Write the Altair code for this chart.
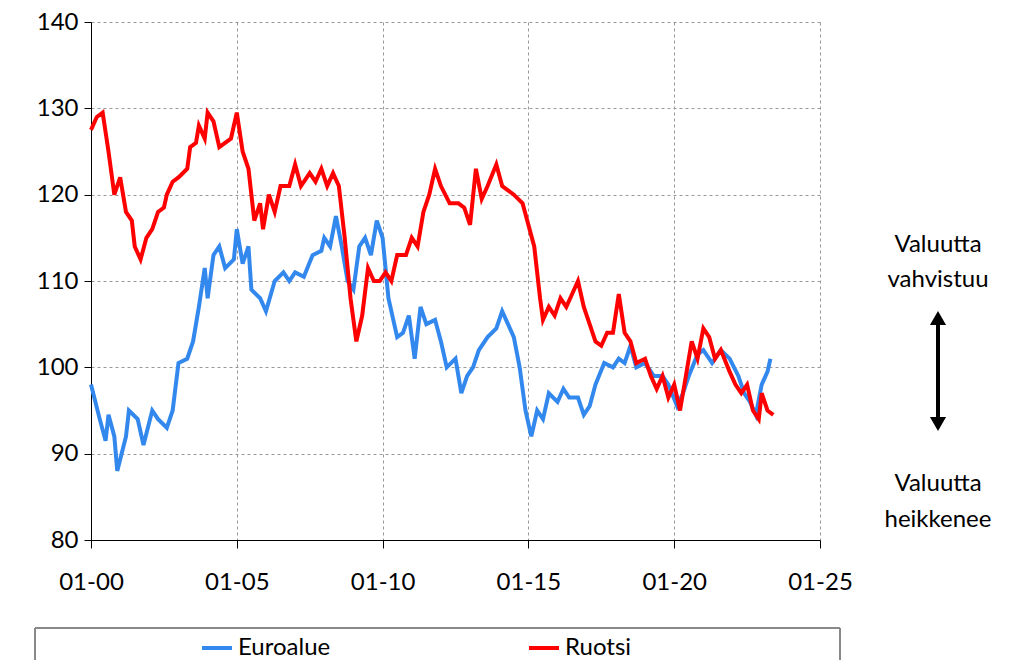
import altair as alt
import pandas as pd

euro_t = [2000.0, 2000.3, 2000.5, 2000.6, 2000.8, 2000.9, 2001.2, 2001.3, 2001.6, 2001.8, 2002.1, 2002.3, 2002.6, 2002.8,
          2003.0, 2003.3, 2003.5, 2003.7, 2003.9, 2004.0, 2004.2, 2004.4, 2004.6, 2004.9, 2005.0, 2005.2, 2005.4, 2005.5,
          2005.8, 2006.0, 2006.3, 2006.6, 2006.8, 2007.0, 2007.3, 2007.6, 2007.9, 2008.0, 2008.2, 2008.4, 2008.6, 2008.8,
          2009.0, 2009.2, 2009.4, 2009.6, 2009.8, 2010.0, 2010.2, 2010.5, 2010.7, 2010.9, 2011.1, 2011.3, 2011.5, 2011.8,
          2012.0, 2012.2, 2012.5, 2012.7, 2012.9, 2013.1, 2013.3, 2013.6, 2013.9, 2014.1, 2014.3, 2014.5, 2014.7, 2014.9,
          2015.1, 2015.3, 2015.5, 2015.7, 2016.0, 2016.2, 2016.4, 2016.7, 2016.9, 2017.1, 2017.3, 2017.6, 2017.9, 2018.1,
          2018.3, 2018.5, 2018.7, 2019.0, 2019.3, 2019.6, 2019.8, 2020.1, 2020.3, 2020.5, 2020.8, 2021.0, 2021.3, 2021.6,
          2021.9, 2022.2, 2022.4, 2022.6, 2022.8, 2023.0, 2023.2, 2023.3]
euro_v = [98, 94, 91.5, 94.5, 92, 88, 92, 95, 94, 91, 95, 94, 93, 95,
          100.5, 101, 103, 107, 111.5, 108, 113, 114, 111.5, 112.5, 116, 112, 114, 109,
          108, 106.5, 110, 111, 110, 111, 110.5, 113, 113.5, 115, 114, 117.5, 114, 110,
          109, 114, 115, 113, 117, 115, 108, 103.5, 104, 106, 101, 107, 105, 105.5,
          103, 100, 101, 97, 99, 100, 102, 103.5, 104.5, 106.5, 105, 103.5, 100, 95,
          92, 95, 94, 97, 96, 97.5, 96.5, 96.5, 94.5, 95.5, 98, 100.5, 100, 101,
          100.5, 102.5, 100, 100.5, 99, 99, 98, 95.5, 97, 99, 101.5, 102, 100.5, 102,
          101, 99, 97, 96, 94.5, 98, 99.5, 101]

swe_t = [2000.0, 2000.2, 2000.4, 2000.6, 2000.8, 2001.0, 2001.2, 2001.4, 2001.5, 2001.7, 2001.9, 2002.1, 2002.3, 2002.5,
         2002.6, 2002.8, 2003.0, 2003.3, 2003.4, 2003.6, 2003.7, 2003.9, 2004.0, 2004.2, 2004.4, 2004.6, 2004.8, 2005.0,
         2005.2, 2005.4, 2005.6, 2005.8, 2005.9, 2006.1, 2006.3, 2006.5, 2006.8, 2007.0, 2007.2, 2007.5, 2007.7, 2007.9,
         2008.1, 2008.3, 2008.5, 2008.7, 2008.9, 2009.1, 2009.2, 2009.3, 2009.5, 2009.7, 2009.9, 2010.1, 2010.3, 2010.5,
         2010.8, 2011.0, 2011.2, 2011.4, 2011.6, 2011.8, 2012.0, 2012.3, 2012.6, 2012.8, 2013.0, 2013.2, 2013.4, 2013.6,
         2013.9, 2014.1, 2014.3, 2014.5, 2014.8, 2015.0, 2015.2, 2015.4, 2015.5, 2015.7, 2015.9, 2016.1, 2016.3, 2016.5,
         2016.7, 2016.9, 2017.1, 2017.3, 2017.5, 2017.7, 2017.9, 2018.1, 2018.3, 2018.5, 2018.7, 2019.0, 2019.2, 2019.4,
         2019.6, 2019.8, 2020.0, 2020.2, 2020.4, 2020.6, 2020.8, 2021.0, 2021.2, 2021.4, 2021.6, 2021.9, 2022.1, 2022.3,
         2022.5, 2022.7, 2022.9, 2023.0, 2023.2, 2023.4]
swe_v = [127.5, 129, 129.5, 125, 120, 122, 118, 117, 114, 112.5, 115, 116, 118, 118.5,
         120, 121.5, 122, 123, 125.5, 126, 128, 126.5, 129.5, 128.5, 125.5, 126, 126.5, 129.5,
         125, 123, 117, 119, 116, 120, 118, 121, 121, 123.5, 121, 122.5, 121.5, 123,
         121, 122.5, 121, 115, 108, 103, 104.5, 106, 111.5, 110, 110, 111, 110, 113,
         113, 115, 114, 118, 120, 123, 121, 119, 119, 118.5, 116.5, 123, 119.5, 121,
         123.5, 121, 120.5, 120, 119, 116.5, 114, 108, 105.5, 107, 106, 108, 107, 108.5,
         110, 107, 105, 103, 102.5, 104, 104, 108.5, 104, 103, 100.5, 101, 99, 97.5,
         99, 96.5, 98, 95, 99, 103, 101, 104.5, 103.5, 101, 102, 99.5, 98, 97,
         98, 95, 94, 97, 95, 94.5]

df = pd.concat([
    pd.DataFrame({"t": euro_t, "v": euro_v, "s": "Euroalue"}),
    pd.DataFrame({"t": swe_t, "v": swe_v, "s": "Ruotsi"}),
])

F = "Lato"

lines = alt.Chart(df).mark_line(strokeWidth=4).encode(
    alt.X("t:Q", scale=alt.Scale(domain=[2000, 2025], nice=False),
          axis=alt.Axis(values=[2000, 2005, 2010, 2015, 2020, 2025], title=None,
                        labelExpr="'01-' + (datum.value % 100 < 10 ? '0' : '') + (datum.value % 100)",
                        labelFlush=False, labelOverlap=False,
                        gridDash=[3, 3], gridColor="#999", domainColor="black", tickColor="black",
                        tickSize=8, labelFontSize=24, labelPadding=22)),
    alt.Y("v:Q", scale=alt.Scale(domain=[80, 140], nice=False),
          axis=alt.Axis(values=[80, 90, 100, 110, 120, 130, 140], title=None,
                        labelFlush=False, labelOverlap=False,
                        gridDash=[3, 3], gridColor="#999", domainColor="black", tickColor="black",
                        tickSize=7, labelFontSize=24, labelPadding=6)),
    alt.Color("s:N", scale=alt.Scale(domain=["Euroalue", "Ruotsi"], range=["#3388ee", "#ff0000"]),
              legend=alt.Legend(title=None, orient="none", legendX=109, legendY=609, direction="horizontal",
                                symbolType="stroke", symbolStrokeWidth=4, symbolSize=900,
                                labelFontSize=24, columnPadding=190)),
)

box = alt.Chart(df).mark_rect(fill=None, stroke="#888", strokeWidth=1).encode(
    x=alt.value(-56), x2=alt.value(749), y=alt.value(606), y2=alt.value(665))

ann = pd.DataFrame({"txt": ["Valuutta", "vahvistuu", "Valuutta", "heikkenee"], "py": [223, 258, 462, 498]})
texts = alt.Chart(ann).mark_text(fontSize=24, font=F, align="center", baseline="middle").encode(
    x=alt.value(847), y=alt.Y("py:Q", scale=None), text="txt:N")

arrow = alt.Chart(df).mark_rule(strokeWidth=4, color="black").encode(
    x=alt.value(847), y=alt.value(295), y2=alt.value(403))
heads = pd.DataFrame({"py": [296, 402], "shape": ["triangle-up", "triangle-down"]})
tips = alt.Chart(heads).mark_point(filled=True, color="black", size=260, opacity=1).encode(
    x=alt.value(847), y=alt.Y("py:Q", scale=None),
    shape=alt.Shape("shape:N", scale=None))

chart = (box + lines + texts + arrow + tips).properties(
    width=729, height=518,
    autosize=alt.AutoSizeParams(type="none"),
    padding={"left": 83, "top": 14, "right": 185, "bottom": 120},
).configure(font=F).configure_view(stroke=None).configure_axis(labelFont=F, labelColor="black").configure_legend(labelFont=F)

chart.save("out.html", embed_options={"renderer": "svg", "actions": False})
